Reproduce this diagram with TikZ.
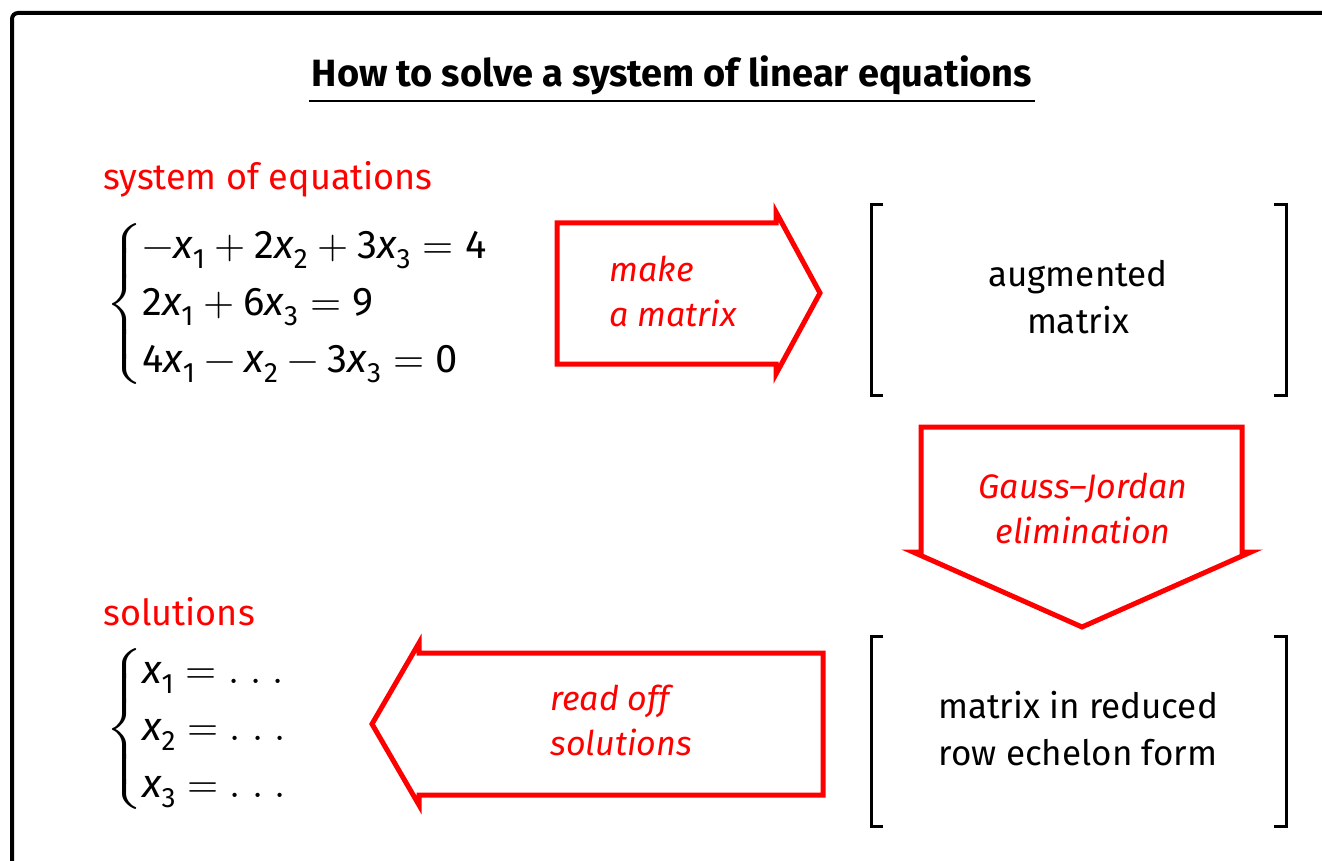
\documentclass[tikz,border=0pt]{standalone}
\usepackage{fontspec}
\usepackage{unicode-math}
\setmainfont{Fira Sans}
\setmathfont{Latin Modern Math}
\setmathfont[range=it/{latin,Latin}]{Fira Sans Italic}
\setmathfont[range=up/num]{Fira Sans}
\usetikzlibrary{positioning}

\tikzset{
  bigarrow/.style={draw=red, line width=2.5pt, line join=miter, fill=white},
  bracket/.style={draw=black, line width=1.5pt},
  steplabel/.style={text=red, font=\fontsize{17}{22.5}\selectfont\itshape, align=left, inner sep=0pt},
  heading/.style={text=red, font=\fontsize{18}{22}\selectfont, anchor=base west, inner sep=0pt},
  boxtext/.style={font=\fontsize{17.5}{23.5}\selectfont, align=center, inner sep=0pt},
  system/.style={font=\fontsize{20}{22}\selectfont, anchor=west, inner sep=0pt}
}
\newcommand{\dotsgap}{.\;.\;.}

\begin{document}
\begin{tikzpicture}[x=0.5pt, y=-0.5pt]
  \useasboundingbox (0,0) rectangle (1322,861);
  \clip (0,0) rectangle (1322,861);

  % frame
  \draw[line width=2pt, rounded corners=3pt] (12,1000) -- (12,13) -- (1400,13);

  % title
  \node[font=\bfseries\fontsize{19}{23}\selectfont, anchor=base, inner sep=0pt] (title) at (672,87)
    {How to solve a system of linear equations};
  \draw[line width=1pt] ([xshift=-1pt, yshift=-7pt]title.base west) -- ([xshift=1pt, yshift=-7pt]title.base east);

  % equations
  \node[heading] (syshead) at (103,190) {system of equations};
  \node[system] (eqs) at (106,304)
    {\renewcommand{\arraystretch}{1.3}$\left\{\begin{array}{@{}l@{}}
      -x_1+2x_2+3x_3=4\\
      2x_1+6x_3=9\\
      4x_1-x_2-3x_3=0
    \end{array}\right.$};

  % make a matrix
  \draw[bigarrow] (557,223) -- (776,223) -- (776,212) -- (820,293)
    -- (776,374) -- (776,364) -- (557,364) -- cycle;
  \node[steplabel, anchor=west] (make) at (609,291) {make\\a matrix};

  % augmented matrix
  \draw[bracket] (883,205) -- (871,205) -- (871,395) -- (883,395);
  \draw[bracket] (1274,205) -- (1286,205) -- (1286,395) -- (1274,395);
  \node[boxtext] (augm) at (1078,297) {augmented\\matrix};

  % Gauss-Jordan
  \draw[bigarrow] (921,427) -- (1242,427) -- (1242,552) -- (1251,552) -- (1082,627)
    -- (913,552) -- (921,552) -- cycle;
  \node[steplabel, align=center] (gauss) at (1083,508) {Gauss--Jordan\\elimination};

  % reduced row echelon form
  \draw[bracket] (883,636) -- (871,636) -- (871,826) -- (883,826);
  \draw[bracket] (1274,636) -- (1286,636) -- (1286,826) -- (1274,826);
  \node[boxtext] (rref) at (1078,729) {matrix in reduced\\row echelon form};

  % read off solutions
  \draw[bigarrow] (823,653) -- (823,795) -- (419,795) -- (419,805) -- (372,724)
    -- (419,643) -- (419,653) -- cycle;
  \node[steplabel, anchor=west] (readoff) at (550,720) {read off\\solutions};

  % solutions
  \node[heading] (solhead) at (103,625) {solutions};
  \node[system] (sols) at (106,729)
    {\renewcommand{\arraystretch}{1.3}$\left\{\begin{array}{@{}l@{}}
      x_1=\dotsgap\\
      x_2=\dotsgap\\
      x_3=\dotsgap
    \end{array}\right.$};
\end{tikzpicture}
\end{document}
